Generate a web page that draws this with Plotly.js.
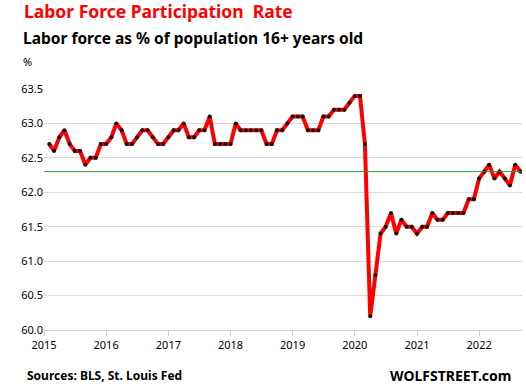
<!DOCTYPE html>
<html>
<head>
<meta charset="utf-8">
<script src="https://cdn.plot.ly/plotly-3.0.1.min.js"></script>
<style>html,body{margin:0;padding:0;background:#fff;}#chart{width:526px;height:391px;}</style>
</head>
<body>
<div id="chart"></div>
<script>
// Monthly labor force participation rate, Feb 2015 - Sep 2022
const startYear = 2015, startMonth = 2;
const rate2015 = [62.7,62.6,62.8,62.9,62.7,62.6,62.6,62.4,62.5,62.5,62.7];
const rate2016 = [62.7,62.8,63.0,62.9,62.7,62.7,62.8,62.9,62.9,62.8,62.7,62.7];
const rate2017 = [62.8,62.9,62.9,63.0,62.8,62.8,62.9,62.9,63.1,62.7,62.7,62.7];
const rate2018 = [62.7,63.0,62.9,62.9,62.9,62.9,62.9,62.7,62.7,62.9,62.9,63.0];
const rate2019 = [63.1,63.1,63.1,62.9,62.9,62.9,63.1,63.1,63.2,63.2,63.2,63.3];
const rate2020 = [63.4,63.4,62.7,60.2,60.8,61.4,61.5,61.7,61.4,61.6,61.5,61.5];
const rate2021 = [61.4,61.5,61.5,61.7,61.6,61.6,61.7,61.7,61.7,61.7,61.9,61.9];
const rate2022 = [62.2,62.3,62.4,62.2,62.3,62.2,62.1,62.4,62.3];
const referenceLevel = 62.3;
const yearTicks = ['2015','2016','2017','2018','2019','2020','2021','2022'];
const yTicks = [60.0,60.5,61.0,61.5,62.0,62.5,63.0,63.5];

const values = [].concat(rate2015, rate2016, rate2017, rate2018, rate2019, rate2020, rate2021, rate2022);
const dates = values.map((v, i) => {
  const m0 = startMonth - 1 + i;
  const y = startYear + Math.floor(m0 / 12);
  const m = (m0 % 12) + 1;
  return y + '-' + String(m).padStart(2, '0') + '-01';
});

const FONT = 'Noto Sans, Liberation Sans, sans-serif';

const trace = {
  x: dates, y: values, type: 'scatter', mode: 'lines+markers',
  line: {color: '#ff0000', width: 4},
  marker: {color: '#111', size: 4},
  hoverinfo: 'skip', showlegend: false
};

const layout = {
  width: 526, height: 391,
  margin: {l: 44, r: 4, t: 89, b: 61},
  paper_bgcolor: '#fff', plot_bgcolor: '#fff',
  xaxis: {
    type: 'date',
    range: ['2015-01-01', '2022-09-10'],
    tickvals: yearTicks.map(y => y + '-01-01'),
    ticktext: yearTicks,
    showgrid: false, zeroline: false,
    showline: true, linecolor: '#d0d0d0', linewidth: 1,
    ticks: 'outside', ticklen: 5, tickcolor: '#d0d0d0',
    tickfont: {family: FONT, size: 11, color: '#000'}
  },
  yaxis: {
    range: [60.0, 63.5],
    tickvals: yTicks,
    ticktext: yTicks.map(v => v.toFixed(1)),
    showgrid: true, gridcolor: '#d9d9d9', gridwidth: 1,
    zeroline: false, showline: false, ticks: '',
    tickfont: {family: FONT, size: 11, color: '#000'}
  },
  title: {
    text: '<b>Labor Force Participation  Rate</b>',
    font: {family: FONT, size: 17.5, color: '#ff0000'},
    x: 0, xanchor: 'left', xref: 'container',
    y: 1, yref: 'container', yanchor: 'top', pad: {t: 6, l: 24}
  },
  shapes: [{
    type: 'line', xref: 'paper', yref: 'y',
    x0: 0, x1: 1, y0: referenceLevel, y1: referenceLevel,
    line: {color: '#339933', width: 1}
  }],
  annotations: [
    {text: '<b>Labor force as % of population 16+ years old</b>', xref: 'paper', yref: 'paper',
     x: -0.048, y: 1.21, xanchor: 'left', yanchor: 'middle', showarrow: false,
     font: {family: FONT, size: 15.5, color: '#000'}},
    {text: '%', xref: 'paper', yref: 'paper', x: -0.048, y: 1.115, xanchor: 'left', yanchor: 'middle',
     showarrow: false, font: {family: FONT, size: 11, color: '#000'}},
    {text: '<b>Sources: BLS, St. Louis Fed</b>', xref: 'paper', yref: 'paper', x: -0.04, y: -0.19,
     xanchor: 'left', yanchor: 'middle', showarrow: false, font: {family: FONT, size: 12, color: '#000'}},
    {text: '<b>WOLFSTREET.com</b>', xref: 'paper', yref: 'paper', x: 0.982, y: -0.19,
     xanchor: 'right', yanchor: 'middle', showarrow: false, font: {family: FONT, size: 14, color: '#000'}}
  ]
};

Plotly.newPlot('chart', [trace], layout, {displayModeBar: false, staticPlot: true});
</script>
</body>
</html>
